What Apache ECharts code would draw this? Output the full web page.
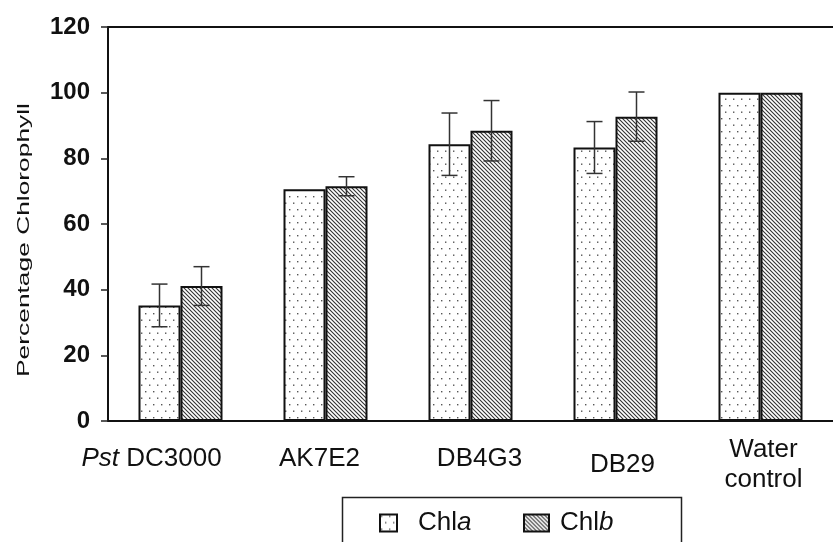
<!DOCTYPE html>
<html>
<head>
<meta charset="utf-8">
<script src="https://cdn.jsdelivr.net/npm/echarts@6/dist/echarts.min.js"></script>
<style>
  html, body { margin: 0; padding: 0; background: #fff; }
  #chart { width: 833px; height: 542px; }
</style>
</head>
<body>
<div id="chart"></div>
<script>
// Chlorophyll content relative to the water control
const categories = ['Pst DC3000', 'AK7E2', 'DB4G3', 'DB29', 'Water\ncontrol'];
const chlA = [35.2, 70.6, 84.3, 83.3, 100];
const chlB = [41.1, 71.5, 88.4, 92.7, 100];
const errA = [6.5, 0, 9.5, 7.9, 0];
const errB = [5.9, 2.9, 9.2, 7.5, 0];
const yTicks = { min: 0, max: 120, step: 20 };

const FONT = "'Liberation Sans', Arial, sans-serif";
const BAR_W = 42;

// dotted fill for Chl a
function dotPattern() {
  const c = document.createElement('canvas');
  c.width = 8; c.height = 13;
  const g = c.getContext('2d');
  g.fillStyle = '#fff';
  g.fillRect(0, 0, 8, 13);
  g.fillStyle = '#555';
  g.fillRect(1, 1, 1.4, 1.4);
  g.fillRect(5, 7.5, 1.4, 1.4);
  return c;
}
// diagonal hatch for Chl b
function hatchPattern() {
  const s = 4;
  const c = document.createElement('canvas');
  c.width = s; c.height = s;
  const g = c.getContext('2d');
  g.fillStyle = '#fff';
  g.fillRect(0, 0, s, s);
  g.strokeStyle = '#333';
  g.lineWidth = 1.1;
  g.beginPath();
  g.moveTo(-1, -1); g.lineTo(s + 1, s + 1);
  g.moveTo(-1, s - 1); g.lineTo(1, s + 1);
  g.moveTo(s - 1, -1); g.lineTo(s + 1, 1);
  g.stroke();
  return c;
}

const fillA = { image: dotPattern(), repeat: 'repeat' };
const fillB = { image: hatchPattern(), repeat: 'repeat' };

function errorSeries(values, errs, offset) {
  return {
    type: 'custom',
    silent: true,
    z: 10,
    data: values.map((v, i) => [i, v, errs[i]]),
    renderItem: function (params, api) {
      const i = api.value(0), v = api.value(1), e = api.value(2);
      if (!e) return null;
      const hi = api.coord([i, v + e]);
      const lo = api.coord([i, v - e]);
      const x = hi[0] + offset;
      const cap = 8;
      const style = { stroke: '#333', lineWidth: 1.5 };
      return {
        type: 'group',
        children: [
          { type: 'line', shape: { x1: x, y1: hi[1], x2: x, y2: lo[1] }, style: style },
          { type: 'line', shape: { x1: x - cap, y1: hi[1], x2: x + cap, y2: hi[1] }, style: style },
          { type: 'line', shape: { x1: x - cap, y1: lo[1], x2: x + cap, y2: lo[1] }, style: style }
        ]
      };
    }
  };
}

// per-label nudges for the category captions
const labelPad = {
  'Pst DC3000': [9, 58, 0, 0],
  'AK7E2': [9, 12, 0, 0],
  'DB4G3': [9, 0, 0, 18],
  'DB29': [15, 0, 0, 14],
  'Water\ncontrol': [0, 0, 0, 6]
};
const catData = categories.map(function (c) {
  return { value: c, textStyle: { padding: labelPad[c] } };
});

const chart = echarts.init(document.getElementById('chart'), null, { renderer: 'canvas' });

const legendText = {
  fontFamily: FONT, fontSize: 26, color: '#111',
  rich: {
    r: { fontFamily: FONT, fontSize: 26, color: '#111' },
    i: { fontFamily: FONT, fontSize: 26, color: '#111', fontStyle: 'italic' }
  }
};
const legendFormat = function (name) {
  return '{r|Chl}{i|' + name.slice(3) + '}';
};

chart.setOption({
  animation: false,
  backgroundColor: '#fff',
  grid: { left: 108, top: 27, width: 730, height: 394 },
  xAxis: [
    {
      type: 'category',
      data: catData,
      axisLine: { lineStyle: { color: '#111', width: 2 } },
      axisTick: { length: 7, lineStyle: { color: '#222', width: 1.5 } },
      axisLabel: {
        margin: 14,
        interval: 0,
        fontFamily: FONT,
        fontSize: 26,
        lineHeight: 30,
        color: '#111',
        formatter: function (v) {
          if (v === 'Pst DC3000') return '{i|Pst} {r|DC3000}';
          return v;
        },
        rich: {
          i: { fontFamily: FONT, fontSize: 26, fontStyle: 'italic', color: '#111', lineHeight: 30 },
          r: { fontFamily: FONT, fontSize: 26, color: '#111', lineHeight: 30 }
        }
      }
    },
    {
      type: 'category',
      position: 'top',
      data: categories,
      axisLine: { show: true, lineStyle: { color: '#111', width: 2 } },
      axisTick: { show: false },
      axisLabel: { show: false }
    }
  ],
  yAxis: {
    type: 'value',
    min: yTicks.min,
    max: yTicks.max,
    interval: yTicks.step,
    splitLine: { show: false },
    axisLine: { show: true, lineStyle: { color: '#111', width: 2 } },
    axisTick: { show: true, length: 7, lineStyle: { color: '#222', width: 1.5 } },
    axisLabel: {
      margin: 18,
      fontFamily: FONT,
      fontSize: 24,
      fontWeight: 'bold',
      color: '#111'
    }
  },
  legend: [
    {
      data: ['Chla'],
      left: 374, top: 505,
      itemWidth: 17, itemHeight: 17,
      icon: 'rect',
      formatter: legendFormat,
      textStyle: Object.assign({ padding: [0, 0, 0, 16] }, legendText)
    },
    {
      data: ['Chlb'],
      left: 518, top: 505,
      itemWidth: 25, itemHeight: 17,
      icon: 'rect',
      formatter: legendFormat,
      textStyle: Object.assign({ padding: [0, 0, 0, 6] }, legendText)
    }
  ],
  graphic: [
    {
      type: 'rect',
      left: 340, top: 495,
      shape: { width: 339, height: 80 },
      style: { fill: 'none', stroke: '#222', lineWidth: 1.5 },
      silent: true
    },
    {
      type: 'text',
      x: 24, y: 240,
      rotation: Math.PI / 2,
      scaleX: 1.55,
      style: {
        text: 'Percentage Chlorophyll',
        fontFamily: FONT,
        fontSize: 17,
        fill: '#111',
        align: 'center',
        verticalAlign: 'middle'
      },
      silent: true
    }
  ],
  series: [
    {
      name: 'Chla',
      type: 'bar',
      data: chlA,
      barWidth: BAR_W,
      barGap: '0%',
      itemStyle: { color: fillA, borderColor: '#111', borderWidth: 2 }
    },
    {
      name: 'Chlb',
      type: 'bar',
      data: chlB,
      barWidth: BAR_W,
      barGap: '0%',
      itemStyle: { color: fillB, borderColor: '#111', borderWidth: 2 }
    },
    errorSeries(chlA, errA, -BAR_W / 2),
    errorSeries(chlB, errB, BAR_W / 2)
  ]
});
</script>
</body>
</html>
